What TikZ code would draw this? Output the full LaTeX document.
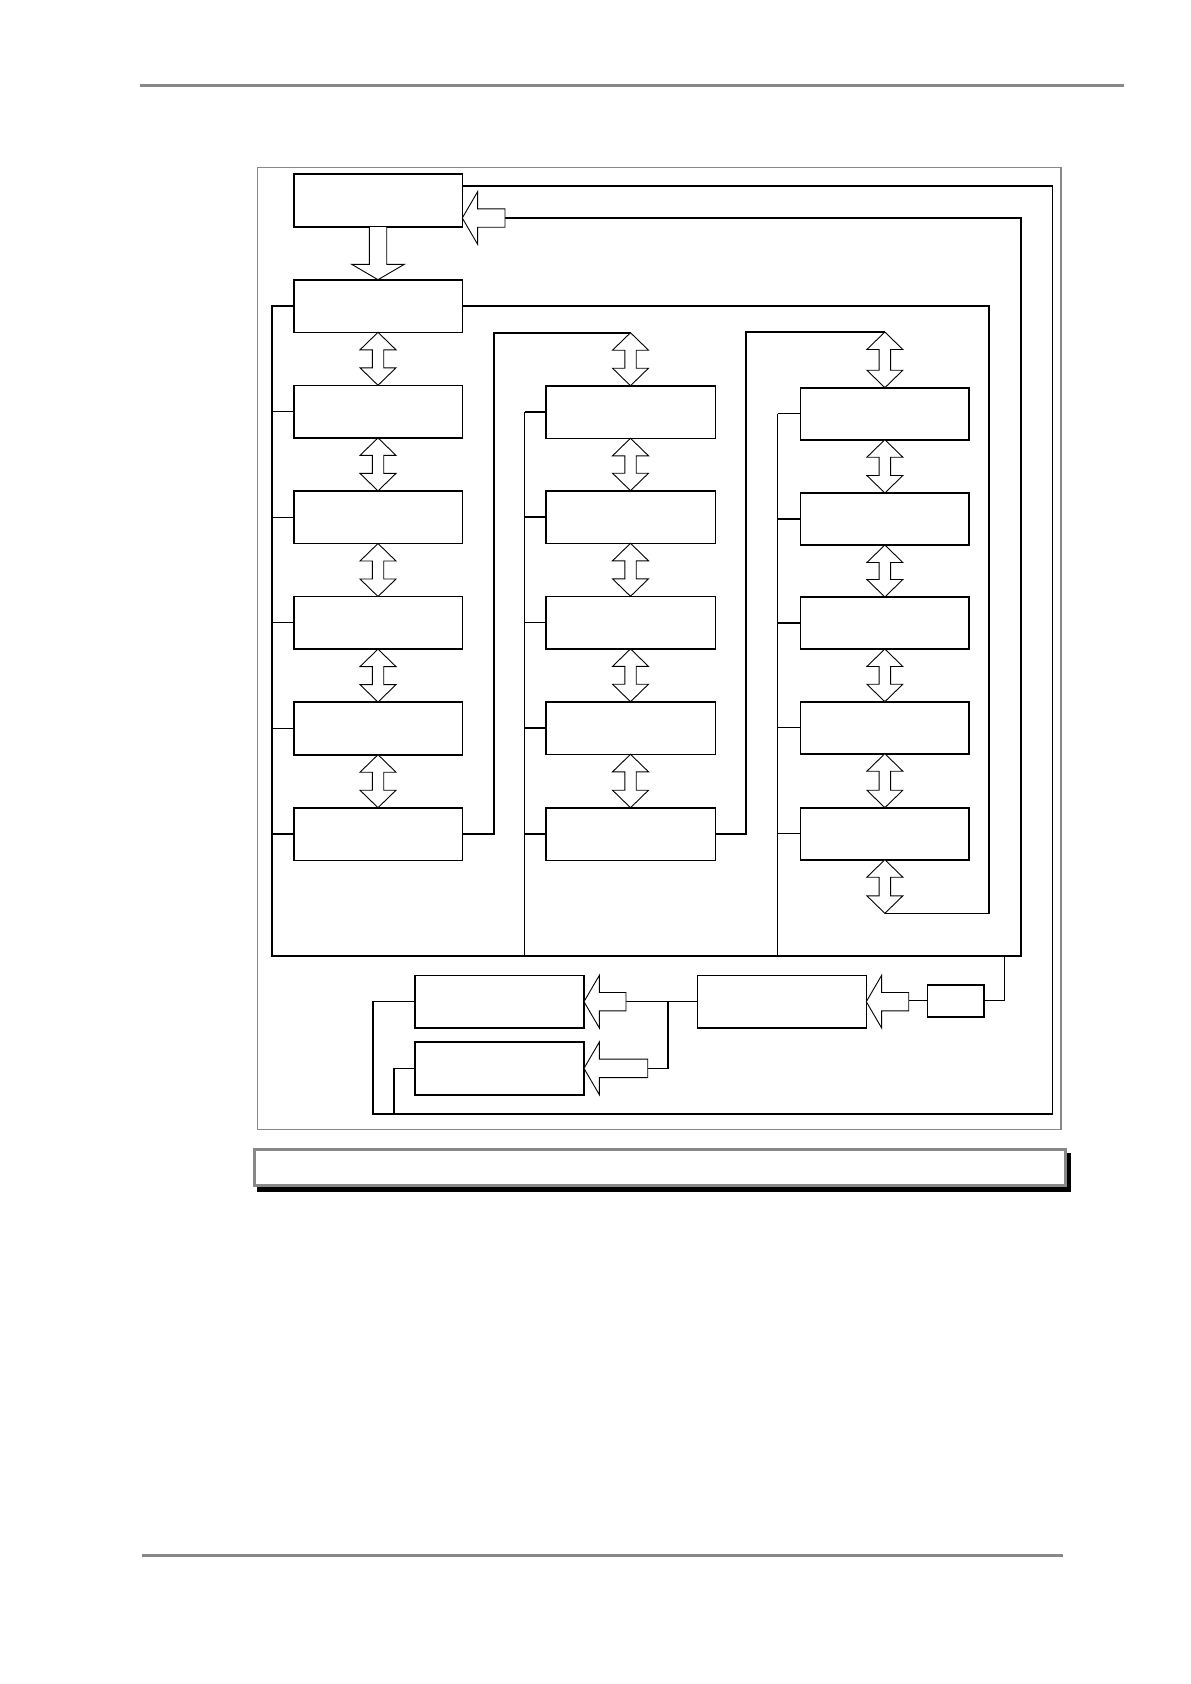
\documentclass[tikz,border=0pt]{standalone}
\usetikzlibrary{calc}
\definecolor{frameg}{HTML}{888888}
\tikzset{
 blk/.style={draw=black, line width=1.6pt, fill=white, inner sep=0pt, outer sep=0pt, anchor=north west, minimum width=168.6pt, minimum height=52.6pt},
 wire/.style={draw=black, line width=1.6pt},
 midwire/.style={draw=black, line width=1.3pt},
 thinwire/.style={draw=black, line width=1pt},
 bigarr/.style={draw=black, fill=white, line width=0.9pt, line join=miter},
 dblarr/.style={draw=black, fill=white, line width=0.9pt, line join=miter},
 pagerule/.style={draw=frameg, line width=3pt},
}
\newcommand{\udarr}[2]{\draw[dblarr] (#1) -- ++(18,17.5) -- ++(-12.3,0) -- ($(#2)+(5.7,-17.5)$) -- ++(12.3,0) -- (#2) -- ++(-18,-17.5) -- ++(12.3,0) -- ($(#1)+(-5.7,17.5)$) -- ++(-12.3,0) -- cycle;}
\newcommand{\larr}[2]{\draw[bigarr] (#1) -- ++(15.3,-26.3) -- ++(0,17.1) -- ++({#2-15.3},0) -- ++(0,18.4) -- ++({15.3-#2},0) -- ++(0,17.1) -- cycle;}
\begin{document}
\begin{tikzpicture}[x=1pt,y=-1pt]
\useasboundingbox[fill=white] (0,0) rectangle (1191,1684);
% page rules
\draw[pagerule] (140,85.3) -- (1124,85.3);
\draw[pagerule] (142,1555.3) -- (1062.7,1555.3);
% frame
\draw[frameg, line width=1.2pt] (257.3,167.3) rectangle (1061,1129.3);
% caption box with shadow
\fill[black] (257,1153) rectangle (1070.7,1192.3);
\node[draw=frameg, line width=3pt, fill=white, inner sep=0pt, outer sep=0pt, anchor=north west, minimum width=810.4pt, minimum height=35.4pt] (cap) at (254.8,1149.8) {};

% boxes
\node[blk, minimum height=53.3pt] (B0) at (293.7,173.7) {};
\foreach \i/\y in {1/279.7,2/385.3,3/490.9,4/596.5,5/702.1,6/807.7}
  \node[blk] (c1r\i) at (293.7,\y) {};
\foreach \i/\y in {2/385.7,3/490.7,4/596.3,5/701.7,6/807.7}
  \node[blk, minimum width=169.6pt] (c2r\i) at (545.7,\y) {};
\foreach \i/\y in {2/387.7,3/493,4/597,5/701.7,6/807.7}
  \node[blk, minimum width=168.7pt, minimum height=52pt] (c3r\i) at (800.5,\y) {};
\node[blk, minimum width=169.3pt, minimum height=52.7pt] (L1) at (414.7,975.3) {};
\node[blk, minimum width=169.3pt, minimum height=53.3pt] (L2) at (414.7,1041.7) {};
\node[blk, minimum width=169pt, minimum height=52.7pt] (M) at (697.3,975.3) {};
\node[blk, minimum width=56.7pt, minimum height=32.3pt] (S) at (927.3,984.7) {};

% coordinates
\coordinate (busL) at (271.7,955.7);
\coordinate (busR) at (1021,955.7);
\coordinate (loopR) at (1052.3,1114);
\coordinate (loopL) at (373,1114);
\coordinate (loopL2) at (393.7,1114);
\coordinate (c2bus) at (524.7,955.7);
\coordinate (c3bus) at (777.7,955.7);
\coordinate (sTap) at (1004,955.7);
\coordinate (k3) at (989,913.3);
\coordinate (c3tip) at (884.85,913.3);
\coordinate (c2bend) at (494,332.7);
\coordinate (c2tip) at (630.5,332.7);
\coordinate (c3bend) at (746,332);
\coordinate (c3top) at (884.85,332);
\coordinate (jn) at (667.7,1001.65);
\coordinate (B0tip) at ($(B0.south east)+(0,-9)$);
\coordinate (B0end) at ($(B0tip)+(42.7,0)$);
\coordinate (Mend) at ($(M.east)+(42.4,0)$);
\coordinate (L1end) at ($(L1.east)+(42,0)$);
\coordinate (L2end) at ($(L2.east)+(63.7,0)$);

% wires
\draw[wire] ($(B0.north east)+(0,12)$) -| (loopR) -- (loopL) |- (L1.west);
\draw[wire] (loopL2) |- (L2.west);
\draw[wire] (B0end) -| (busR) -- (busL) |- (c1r1.west);
\foreach \i in {2,...,6} \draw[midwire] (busL |- c1r\i.west) -- (c1r\i.west);
\draw[thinwire] (c2bus |- c2r2.west) -- (c2bus);
\foreach \i in {2,...,6} \draw[midwire] (c2bus |- c2r\i.west) -- (c2r\i.west);
\draw[midwire] (c3bus |- c3r2.west) -- (c3bus);
\foreach \i in {2,...,6} \draw[midwire] (c3bus |- c3r\i.west) -- (c3r\i.west);
\draw[wire] (c1r1.east) -| (k3) -- (c3tip);
\draw[wire] (c1r6.east) -| (c2bend) -- (c2tip);
\draw[wire] (c2r6.east) -| (c3bend) -- (c3top);
\draw[thinwire] (sTap) |- (S.east);
\draw[thinwire] (S.west) -- (S.west -| Mend);
\draw[wire] (M.west) -- (L1end);
\draw[wire] (jn) |- (L2end);

% block arrows
\draw[bigarr] ($(B0.south)+(-8.7,0)$) -- ($(c1r1.north)+(-8.7,-15.4)$) -- ($(c1r1.north)+(-26.3,-15.4)$) -- (c1r1.north) -- ($(c1r1.north)+(26.3,-15.4)$) -- ($(c1r1.north)+(8.7,-15.4)$) -- ($(B0.south)+(8.7,0)$);
\larr{B0tip}{42.7}
\larr{M.east}{42.4}
\larr{L1.east}{42}
\larr{L2.east}{63.7}

% double arrows
\foreach \i/\j in {1/2,2/3,3/4,4/5,5/6} {\udarr{c1r\i.south}{c1r\j.north}}
\udarr{c2tip}{c2r2.north}
\foreach \i/\j in {2/3,3/4,4/5,5/6} {\udarr{c2r\i.south}{c2r\j.north}}
\udarr{c3top}{c3r2.north}
\foreach \i/\j in {2/3,3/4,4/5,5/6} {\udarr{c3r\i.south}{c3r\j.north}}
\udarr{c3r6.south}{c3tip}
\end{tikzpicture}
\end{document}
